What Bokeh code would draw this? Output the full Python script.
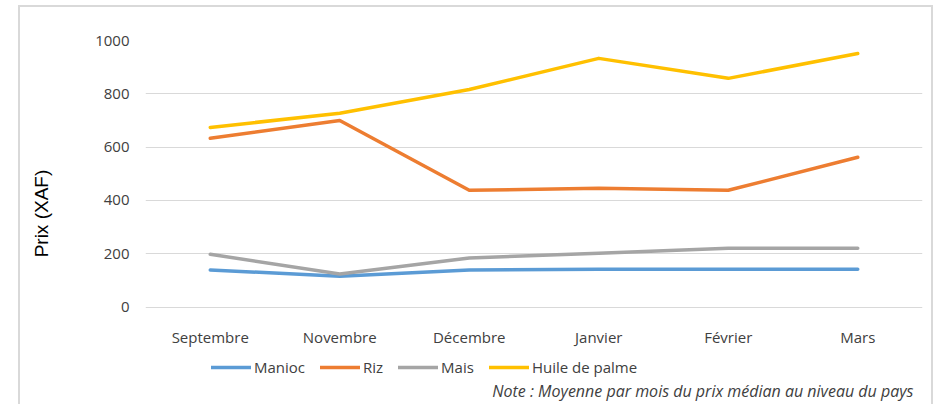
from bokeh.plotting import figure
from bokeh.models import FactorRange, Range1d, FixedTicker, Legend, LegendItem, Label
from bokeh.embed import file_html
from bokeh.resources import INLINE

months = ["Septembre", "Novembre", "Décembre", "Janvier", "Février", "Mars"]
manioc = [139, 116, 139, 142, 142, 142]
riz = [633, 700, 438, 446, 438, 562]
mais = [198, 124, 184, 202, 221, 221]
huile = [674, 727, 816, 933, 858, 951]
y_ticks = [0, 200, 400, 600, 800, 1000]

series = [
    ("Manioc", manioc, "#5B9BD5"),
    ("Riz", riz, "#ED7D31"),
    ("Mais", mais, "#A5A5A5"),
    ("Huile de palme", huile, "#FFC000"),
]

# frame spans down to the bottom so that legend and note (drawn below the 0 line) are not clipped
p = figure(width=934, height=404, output_backend="svg", toolbar_location=None,
           x_range=FactorRange(*months), y_range=Range1d(-358, 1000),
           min_border_left=145, min_border_right=12, min_border_top=40, min_border_bottom=2)
p.background_fill_color = "white"
p.border_fill_alpha = 0
p.outline_line_color = None
# light grey chart-area border (left, top, right), drawn behind the transparent canvas border
p.styles = {
    "background-color": "white",
    "background-image": ("linear-gradient(#d9d9d9,#d9d9d9), linear-gradient(#d9d9d9,#d9d9d9), "
                         "linear-gradient(#d9d9d9,#d9d9d9)"),
    "background-size": "2px 100%, 914px 2px, 2px 100%",
    "background-position": "18px 5px, 18px 5px, 931px 5px",
    "background-repeat": "no-repeat",
}

items = []
for name, vals, col in series:
    r = p.line(months, vals, line_color=col, line_width=3.5, line_cap="round", line_join="round")
    items.append(LegendItem(label=name, renderers=[r]))

p.xgrid.grid_line_color = None
p.ygrid.grid_line_color = "#d9d9d9"
p.ygrid.grid_line_width = 1

p.yaxis.ticker = FixedTicker(ticks=y_ticks)
p.xaxis.fixed_location = 0
for ax in (p.xaxis[0], p.yaxis[0]):
    ax.axis_line_color = None
    ax.major_tick_line_color = None
    ax.minor_tick_line_color = None
    ax.major_tick_out = 0
    ax.major_tick_in = 0
    ax.major_label_text_font = "Open Sans"
    ax.major_label_text_font_size = "15px"
    ax.major_label_text_color = "#404040"
p.yaxis.major_label_standoff = 16
p.xaxis.major_label_standoff = 20

p.yaxis.axis_label = "\u00a0\u00a0\u00a0Prix (XAF)"
p.yaxis.axis_label_text_font = "Liberation Sans"
p.yaxis.axis_label_text_font_size = "19px"
p.yaxis.axis_label_text_font_style = "normal"
p.yaxis.axis_label_text_color = "#000000"
p.yaxis.axis_label_standoff = 40

legend = Legend(items=items, orientation="horizontal", location=(66, 25),
                glyph_width=40, glyph_height=20, label_standoff=3, spacing=15,
                padding=0, margin=0, background_fill_alpha=0, border_line_color=None,
                label_text_font="Open Sans", label_text_font_size="15px",
                label_text_color="#404040")
p.add_layout(legend, "center")

note = Label(x=768, y=12, x_units="screen", y_units="screen",
             text="Note : Moyenne par mois du prix médian au niveau du pays",
             text_font="Open Sans", text_font_style="italic", text_font_size="16px",
             text_color="#404040", text_align="right", text_baseline="middle")
p.add_layout(note)

open("out.html", "w").write(file_html(p, INLINE))
